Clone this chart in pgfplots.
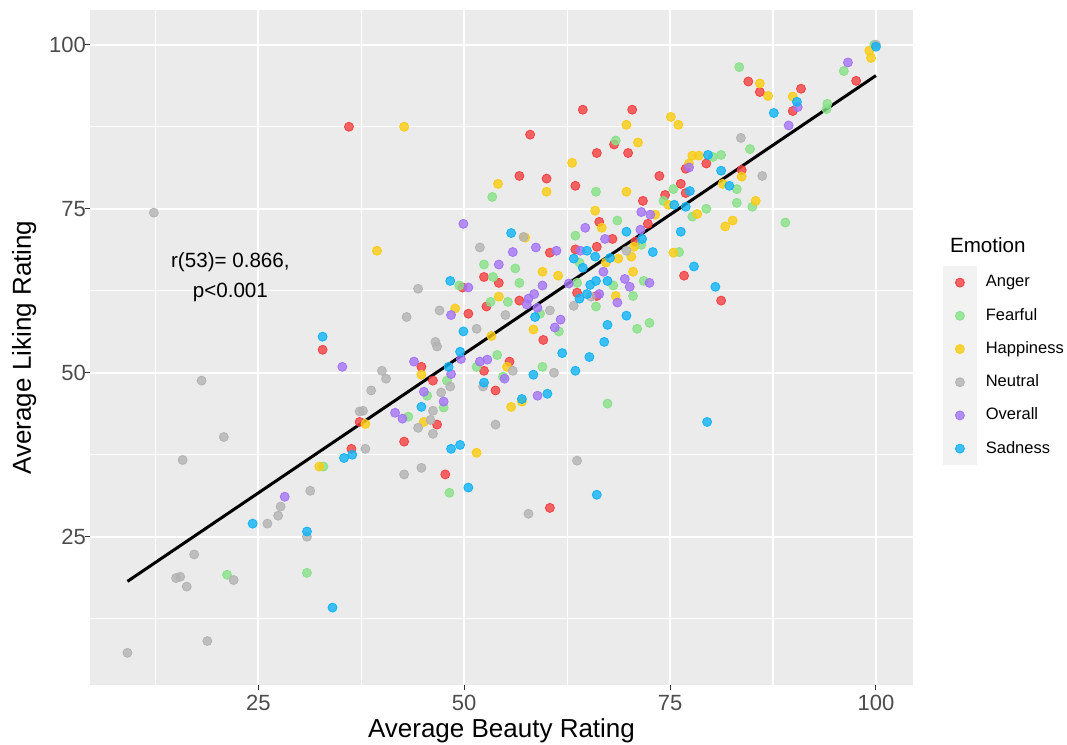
\documentclass[border=0pt]{standalone}
\usepackage{fontspec}
\setmainfont{Liberation Sans}
\usepackage{pgfplots}
\pgfplotsset{compat=1.18}
\definecolor{ggbg}{HTML}{EBEBEB}
\definecolor{ggkey}{HTML}{F2F2F2}
\definecolor{cAnger}{RGB}{245,64,66}
\definecolor{cFear}{RGB}{135,226,135}
\definecolor{cHappy}{RGB}{251,204,16}
\definecolor{cNeutral}{RGB}{179,179,179}
\definecolor{cOverall}{RGB}{164,116,247}
\definecolor{cSad}{RGB}{16,179,247}
\pgfplotsset{pts/.style={only marks, mark=*, mark size=2.25pt, color=#1, mark options={draw=none, fill=#1, fill opacity=0.8}}}
\begin{document}
\begin{tikzpicture}[x=1pt,y=1pt]
\useasboundingbox (-45,-30) rectangle (488.5,342.5);
\begin{axis}[
  at={(0,0)}, anchor=south west,
  scale only axis, width=411.5pt, height=337.5pt,
  xmin=4.55, xmax=104.5, ymin=2.4, ymax=105.3,
  clip=false,
  axis background/.style={fill=ggbg},
  axis line style={draw=none},
  xtick={25,50,75,100}, ytick={25,50,75,100},
  minor xtick={12.5,37.5,62.5,87.5}, minor ytick={12.5,37.5,62.5,87.5},
  grid=both,
  major grid style={white, line width=1pt},
  minor grid style={white, line width=0.55pt},
  xtick pos=bottom, ytick pos=left,
  tick align=outside,
  major tick length=2.5pt, minor tick length=0pt,
  every tick/.style={color=black!80, line width=0.5pt},
  tick label style={font=\fontsize{11}{13}\selectfont, color=black!70},
  yticklabel style={xshift=4pt},
  xticklabel style={yshift=1pt},
  /pgf/number format/assume math mode=true,
  xlabel={Average Beauty Rating}, ylabel={Average Liking Rating},
  label style={font=\fontsize{13}{15}\selectfont},
  xlabel style={at={(axis description cs:0.5,-0.0785)}, anchor=base},
  ylabel style={at={(axis description cs:-0.0717,0.5)}, anchor=base},
  legend style={at={(axis description cs:1.0365,0.6207)}, anchor=north west, draw=none, fill=none,
    inner sep=0pt, outer sep=0pt, row sep=0pt, column sep=4.5pt,
    font=\fontsize{8.25}{10}\selectfont, nodes={inner sep=0pt}},
  legend cell align=left,
  legend image code/.code={\fill[ggkey] (-8.25pt,-8.1pt) rectangle (8.25pt,8.1pt);
    \draw[mark repeat=1,#1] plot coordinates {(0pt,0pt)};},
]
\addplot[pts=cAnger] coordinates {(36.0,87.5)(64.4,90.1)(70.4,90.1)(58.0,86.3)(68.2,84.8)(66.1,83.5)(69.9,83.5)(76.9,81.1)(56.7,80.0)(60.0,79.6)(63.5,78.5)(73.7,80.0)(76.3,78.8)(76.9,77.4)(74.4,77.1)(71.7,76.2)(66.4,73.0)(72.3,72.7)(68.0,70.4)(84.5,94.4)(85.9,92.8)(90.9,93.3)(89.9,89.9)(97.6,94.5)(79.4,81.9)(83.7,80.9)(52.4,64.6)(54.2,63.7)(49.8,63.0)(52.7,60.1)(50.5,59.0)(32.8,53.5)(52.4,50.3)(44.8,50.9)(46.2,48.8)(53.8,47.3)(37.3,42.5)(46.7,42.1)(42.7,39.5)(36.3,38.4)(47.7,34.5)(60.4,29.4)(76.7,64.8)(60.4,68.3)(63.5,68.8)(66.1,69.2)(70.8,70.0)(56.7,61.0)(63.7,62.2)(66.1,61.7)(59.6,55.0)(55.5,51.7)(81.2,61.0)};
\addlegendentry{Anger}
\addplot[pts=cFear] coordinates {(68.4,85.4)(66.0,77.6)(75.4,78.0)(74.2,76.2)(77.7,73.8)(68.6,73.2)(63.5,70.9)(53.4,76.8)(83.4,96.6)(94.1,91.0)(94.0,90.2)(96.1,96.0)(99.8,100.0)(84.7,84.1)(80.2,82.9)(81.2,83.2)(83.1,78.0)(83.1,75.9)(85.0,75.3)(79.4,75.0)(89.0,72.9)(52.4,66.5)(53.5,64.6)(49.4,63.3)(53.2,60.8)(54.0,52.7)(51.5,50.9)(47.9,48.8)(45.5,46.5)(47.5,44.7)(43.2,43.3)(32.9,35.7)(30.9,19.5)(21.2,19.2)(48.2,31.7)(64.0,66.8)(71.5,69.5)(76.1,68.4)(56.2,65.9)(56.7,63.7)(71.8,64.0)(68.1,63.3)(63.7,63.7)(55.3,60.8)(70.5,61.7)(66.0,60.1)(59.2,59.0)(72.5,57.6)(71.0,56.7)(61.5,56.3)(59.5,50.9)(54.7,49.4)(67.4,45.3)};
\addlegendentry{Fearful}
\addplot[pts=cHappy] coordinates {(42.7,87.5)(54.1,78.8)(75.1,89.0)(76.0,87.8)(69.7,87.8)(71.1,85.1)(63.1,82.0)(77.7,83.1)(78.5,83.1)(77.3,81.9)(60.0,77.6)(69.7,77.6)(74.8,75.6)(65.9,74.7)(73.2,74.1)(78.3,74.2)(66.7,72.1)(57.4,70.6)(85.9,94.1)(86.9,92.2)(89.9,92.1)(99.2,99.1)(99.4,98.0)(83.7,79.9)(81.4,78.8)(85.4,76.2)(82.6,73.2)(81.7,72.3)(39.4,68.6)(48.9,59.8)(54.2,61.6)(53.3,55.6)(44.8,49.7)(38.0,42.2)(45.1,42.5)(51.5,37.8)(32.4,35.7)(67.2,66.8)(70.6,69.2)(70.3,67.7)(68.7,67.4)(75.4,68.3)(59.5,65.4)(61.4,64.8)(70.5,65.4)(68.4,61.7)(58.4,56.6)(55.2,50.9)(57.0,45.6)(55.7,44.8)};
\addlegendentry{Happiness}
\addplot[pts=cNeutral] coordinates {(12.3,74.4)(18.1,48.8)(20.8,40.2)(15.8,36.7)(17.2,22.3)(15.0,18.7)(15.5,18.9)(16.3,17.4)(22.0,18.4)(18.8,9.1)(9.1,7.3)(26.1,27.0)(27.4,28.2)(27.7,29.6)(31.3,32.0)(30.9,25.0)(42.7,34.5)(44.8,35.5)(57.8,28.5)(63.7,36.6)(51.9,69.1)(44.4,62.8)(47.0,59.5)(43.0,58.5)(51.5,56.7)(46.5,54.7)(46.7,54.0)(40.0,50.3)(40.5,49.1)(48.3,47.9)(52.3,47.9)(38.7,47.3)(47.2,47.0)(46.2,44.2)(37.3,44.1)(37.7,44.2)(45.9,42.8)(44.4,41.6)(46.2,40.7)(53.8,42.1)(38.0,38.4)(57.2,70.7)(83.6,85.8)(86.2,80.0)(69.7,68.6)(65.4,61.6)(63.3,60.2)(55.0,58.8)(60.4,59.5)(55.9,50.3)(60.9,50.0)(100,100)};
\addlegendentry{Neutral}
\addplot[pts=cOverall] coordinates {(49.9,72.7)(77.3,81.3)(71.5,74.5)(72.6,74.1)(64.7,72.1)(71.4,71.8)(67.1,70.4)(90.5,90.5)(89.4,87.7)(96.6,97.3)(54.2,66.5)(50.5,63.0)(48.4,58.8)(49.6,52.1)(51.9,51.7)(52.8,52.0)(35.2,50.9)(43.9,51.7)(48.4,49.8)(45.1,47.1)(47.5,45.6)(41.6,43.9)(42.5,43.0)(28.2,31.1)(55.9,68.4)(58.7,69.1)(61.2,68.6)(64.1,68.6)(66.9,65.4)(59.5,63.3)(69.5,64.3)(72.5,63.7)(70.1,63.1)(62.7,63.6)(57.8,61.3)(58.5,62.0)(57.6,60.4)(66.4,62.0)(68.6,60.7)(58.9,59.9)(61.7,58.1)(61.0,56.9)(54.9,49.1)(58.9,46.5)};
\addlegendentry{Overall}
\addplot[pts=cSad] coordinates {(77.4,77.7)(75.5,75.6)(76.9,75.3)(69.7,71.5)(76.3,71.5)(55.7,71.3)(71.6,70.4)(90.4,91.3)(87.6,89.6)(100,99.7)(79.6,83.2)(81.2,80.8)(82.2,78.5)(48.3,64.0)(49.9,56.3)(32.8,55.5)(49.5,53.2)(48.1,50.9)(52.4,48.5)(44.8,44.8)(48.4,38.4)(49.5,39.0)(36.4,37.5)(35.4,37.0)(30.9,25.8)(34.0,14.2)(24.3,27.0)(50.5,32.5)(66.1,31.4)(64.9,68.6)(65.9,67.7)(63.3,67.4)(64.4,66.0)(67.7,67.5)(72.9,68.4)(77.9,66.2)(67.4,64.0)(66.0,64.0)(65.3,63.4)(64.9,62.0)(64.0,61.3)(58.6,58.5)(69.7,58.7)(67.4,57.3)(67.0,54.7)(61.9,53.0)(65.2,52.4)(58.4,49.7)(63.5,50.3)(60.1,46.8)(57.0,46.0)(80.5,63.1)(79.5,42.5)};
\addlegendentry{Sadness}
\addplot[black, line width=1.5pt, forget plot] coordinates {(9.1,18.2)(100,95.3)};
\node[align=center, font=\fontsize{10.3}{15}\selectfont] at (axis cs:21.6,64.6) {r(53)= 0.866,\\p<0.001};
\node[anchor=base west, font=\fontsize{10.3}{12}\selectfont] at (axis description cs:1.0365,0.64) {Emotion};
\end{axis}
\end{tikzpicture}
\end{document}
